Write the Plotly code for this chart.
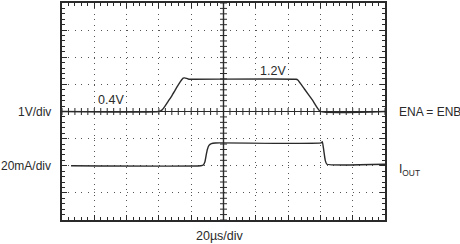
import plotly.graph_objects as go
import numpy as np

# Time base: 20 us/div, 10 divisions
t_range = [0, 200]
# Vertical: 8 divisions, displayed in divisions
y_range = [-4, 4]

# Top trace: ENA = ENB voltage (V), 1 V/div, baseline at 0 div
t_v = [0, 60, 62, 64, 66, 68, 70, 72, 74, 75, 76, 78, 80, 145, 146, 150, 155, 160, 200]
v_en = [0, 0, 0.06, 0.22, 0.4, 0.58, 0.78, 0.98, 1.16, 1.23, 1.24, 1.2, 1.19, 1.19, 1.16, 0.84, 0.43, 0.0, 0]
v_offset_div = 0
v_per_div = 1.0

# Bottom trace: IOUT (mA), 20 mA/div, baseline at -2 div
t_i = [5.6, 86, 87.5, 88.5, 89.3, 90, 91, 92.5, 95, 160.5, 161.2, 162, 163, 164, 200]
i_out = [0, 0, 0.6, 3, 8, 12, 15, 16.3, 16.8, 16.8, 17.8, 12, 4, 1.1, 1.1]
i_offset_div = -2
i_per_div = 20.0

# Labels
left_labels = ["1V/div", "20mA/div"]
left_label_y = [0, -2]
right_labels = ["ENA = ENB", "I<sub>OUT</sub>"]
right_label_y = [0, -2.15]
x_label = "20\u00b5s/div"

ink = "#2a2a2a"
font = "Liberation Sans, Arial, sans-serif"

fig = go.Figure()

fig.add_trace(go.Scatter(
    x=t_v, y=[v_offset_div + v / v_per_div for v in v_en],
    mode="lines", line=dict(color=ink, width=1.4, shape="spline", smoothing=0.4),
    hoverinfo="skip", showlegend=False))

fig.add_trace(go.Scatter(
    x=t_i, y=[i_offset_div + i / i_per_div for i in i_out],
    mode="lines", line=dict(color=ink, width=1.4, shape="spline", smoothing=0.4),
    hoverinfo="skip", showlegend=False))

# center axis tick marks (crossing)
minor_x = np.arange(t_range[0], t_range[1] + 0.01, 4)
minor_y = np.arange(y_range[0], y_range[1] + 0.01, 0.2)
x_center = (t_range[0] + t_range[1]) / 2
fig.add_trace(go.Scatter(
    x=minor_x, y=[0] * len(minor_x), mode="markers",
    marker=dict(symbol="line-ns", size=5, line=dict(color=ink, width=1)),
    hoverinfo="skip", showlegend=False))
fig.add_trace(go.Scatter(
    x=[x_center] * len(minor_y), y=minor_y, mode="markers",
    marker=dict(symbol="line-ew", size=5, line=dict(color=ink, width=1)),
    hoverinfo="skip", showlegend=False))

fig.add_shape(type="line", xref="x", yref="paper", x0=x_center, x1=x_center,
              y0=0, y1=1, line=dict(color=ink, width=1.4))

axis_common = dict(
    showline=True, linecolor=ink, linewidth=1.5, mirror="allticks",
    ticks="inside", ticklen=5, tickcolor=ink, tickwidth=1,
    showticklabels=False, showgrid=True, gridcolor="#555", gridwidth=1,
    fixedrange=True,
)

fig.update_xaxes(range=t_range, dtick=20, zeroline=False,
                 griddash="1px,4.48px",
                 minor=dict(dtick=4, ticks="inside", ticklen=3, tickcolor=ink, showgrid=False),
                 **axis_common)
fig.update_yaxes(range=y_range, dtick=1, zeroline=True, zerolinecolor=ink, zerolinewidth=1.4,
                 griddash="1px,5.46px",
                 minor=dict(dtick=0.2, ticks="inside", ticklen=3, tickcolor=ink, showgrid=False),
                 **axis_common)

ann = []
for txt, yy in zip(left_labels, left_label_y):
    ann.append(dict(text=txt, xref="paper", yref="y", x=-0.028, y=yy,
                    xanchor="right", yanchor="middle", showarrow=False,
                    font=dict(size=12, color=ink, family=font)))
for txt, yy in zip(right_labels, right_label_y):
    ann.append(dict(text=txt, xref="paper", yref="y", x=1.037, y=yy,
                    xanchor="left", yanchor="middle", showarrow=False,
                    font=dict(size=12, color=ink, family=font)))
ann.append(dict(text="0.4V", xref="x", yref="y", x=21, y=0.42, xanchor="left",
                yanchor="middle", showarrow=False, font=dict(size=12.5, color=ink, family=font)))
ann.append(dict(text="1.2V", xref="x", yref="y", x=121.5, y=1.48, xanchor="left",
                yanchor="middle", showarrow=False, font=dict(size=12.5, color=ink, family=font)))
ann.append(dict(text=x_label, xref="paper", yref="paper", x=0.49, y=0, yshift=-16,
                xanchor="center", yanchor="middle", showarrow=False,
                font=dict(size=12.5, color=ink, family=font)))

fig.update_layout(
    width=460, height=244,
    margin=dict(l=62, r=75, t=1, b=24),
    paper_bgcolor="white", plot_bgcolor="white",
    annotations=ann, showlegend=False,
)

fig.write_html("out.html", config={"displayModeBar": False})
